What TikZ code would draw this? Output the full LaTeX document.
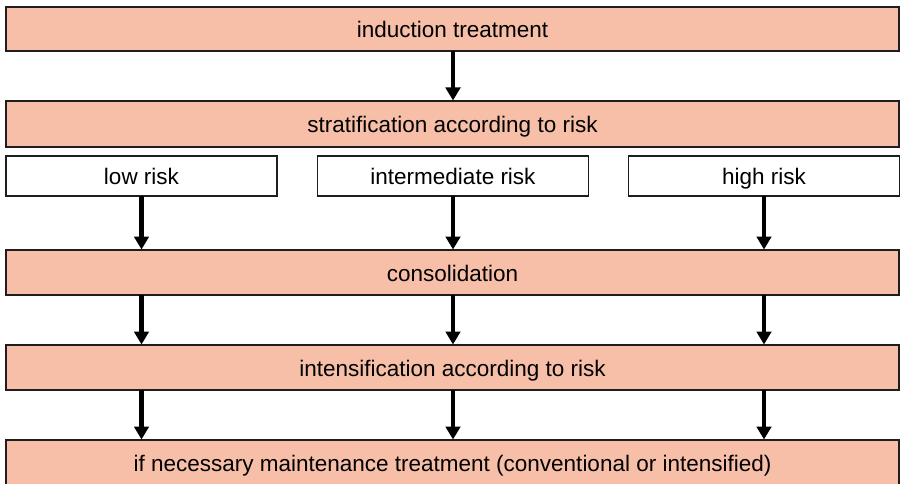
\documentclass[tikz,border=0pt]{standalone}
\usepackage{fontspec}
\setmainfont{Liberation Sans}
\usetikzlibrary{arrows.meta}
\definecolor{boxfill}{HTML}{F7BFA8}
\definecolor{boxline}{HTML}{1E1E1E}
\tikzset{
  boxbase/.style={draw=boxline, line width=1.5pt, inner sep=0pt, outer sep=0pt,
    text height=17pt, text depth=0pt, font=\fontsize{22.5}{26}\selectfont},
  stage/.style={boxbase, fill=boxfill, minimum width=893pt},
  riskbox/.style={boxbase, fill=white, minimum width=271pt, minimum height=40pt},
  flow/.style={line width=4.5pt, black, -{Triangle[width=14.5pt,length=13pt]}, shorten >=0.5pt}
}
\begin{document}
\begin{tikzpicture}[x=1pt, y=-1pt]
\useasboundingbox (0,0) rectangle (905,484);
\fill[white] (0,0) rectangle (905,484);

\node[stage, minimum height=44pt] (ind) at (452.5,29) {induction treatment};
\node[stage, minimum height=46pt] (strat) at (452.5,124) {stratification according to risk};
\node[riskbox] (low) at (141.5,176) {low risk};
\node[riskbox] (mid) at (453,176) {intermediate risk};
\node[riskbox] (high) at (764,176) {high risk};
\node[stage, minimum height=45pt] (cons) at (452.5,272.5) {consolidation};
\node[stage, minimum height=45pt] (intens) at (452.5,367.5) {intensification according to risk};
\node[stage, minimum height=46pt] (maint) at (452.5,463) {if necessary maintenance treatment (conventional or intensified)};

\draw[flow] (ind.south -| mid) -- (strat.north -| mid);

\foreach \c in {low, mid, high} {
  \draw[flow] (\c.south) -- (cons.north -| \c);
  \draw[flow] (cons.south -| \c) -- (intens.north -| \c);
  \draw[flow] (intens.south -| \c) -- (maint.north -| \c);
}
\end{tikzpicture}
\end{document}
